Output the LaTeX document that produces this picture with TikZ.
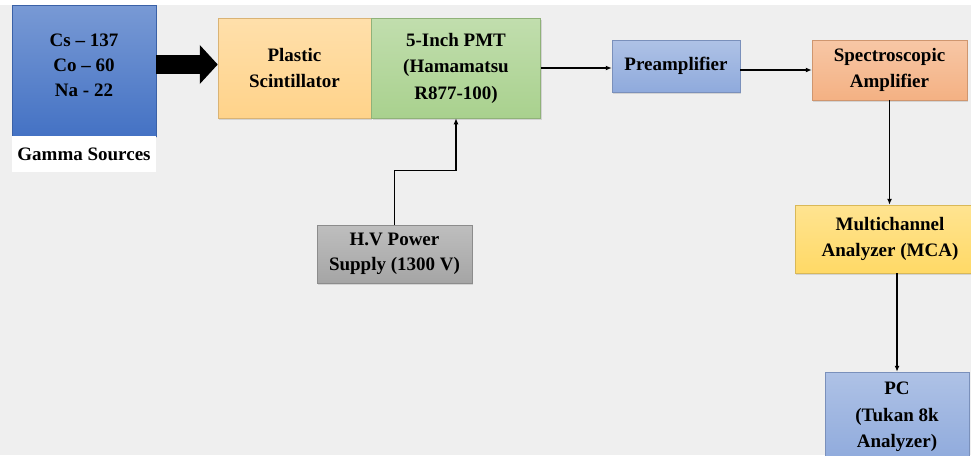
\documentclass[tikz,border=0pt]{standalone}
\usepackage{fontspec}
\setmainfont{Liberation Serif}
\usetikzlibrary{arrows.meta,positioning,shadows}
\definecolor{srcblue}{HTML}{4472C4}
\definecolor{scintor}{HTML}{FFD38A}
\definecolor{pmtgreen}{HTML}{A9D18E}
\definecolor{ampblue}{HTML}{8FAADC}
\definecolor{specsalm}{HTML}{F4B183}
\definecolor{mcayel}{HTML}{FFD966}
\definecolor{hvgrey}{HTML}{A5A5A5}
\definecolor{pagebg}{HTML}{EFEFEF}
\begin{document}
\begin{tikzpicture}[x=1pt,y=-1pt,
  box/.style={draw=#1!85!black, line width=0.5pt, top color=#1!72!white,
    bottom color=#1, inner sep=0pt, align=center,
    drop shadow={opacity=0.25, shadow xshift=1pt, shadow yshift=-2pt},
    font=\fontsize{19}{26.5}\selectfont\bfseries},
  tight/.style={font=\fontsize{19}{25}\selectfont\bfseries},
  link/.style={-{Latex[length=6pt,width=5pt]}, line width=1.2pt},
  fat/.style={-{Triangle[length=18pt,width=38pt]}, line width=19pt}]
  \useasboundingbox (0,0) rectangle (971,455);
  \clip (0,0) rectangle (971,455);
  \fill[pagebg] (0,5) rectangle (971,455);
  % source and detector
  \node[box=srcblue, tight, minimum width=144pt, minimum height=131pt, text depth=11pt] (src) at (84,70.5)
    {Cs -- 137\\Co -- 60\\Na - 22};
  \node[fill=white, minimum width=144pt, minimum height=36pt, inner sep=0pt,
    tight, below=0pt of src] (srclbl) {Gamma Sources};
  \node[box=scintor, minimum width=153pt, minimum height=100pt] (plas) at (294.5,68)
    {Plastic\\Scintillator};
  \node[box=pmtgreen, minimum width=169pt, minimum height=100pt, right=0pt of plas] (pmt)
    {5-Inch PMT\\(Hamamatsu\\R877-100)};
  \node[box=hvgrey, tight, minimum width=155pt, minimum height=58pt] (hv) at (394.5,254)
    {H.V Power\\Supply (1300 V)};
  % electronics chain
  \node[box=ampblue, minimum width=128pt, minimum height=52pt] (pre) at (676,66)
    {Preamplifier};
  \node[box=specsalm, minimum width=155pt, minimum height=60pt] (spec) at (889.5,70)
    {Spectroscopic\\Amplifier};
  \node[box=mcayel, minimum width=190pt, minimum height=68pt] (mca) at (890,239)
    {Multichannel\\Analyzer (MCA)};
  \node[box=ampblue, minimum width=144pt, minimum height=90pt] (pc) at (897,417)
    {PC\\(Tukan 8k\\Analyzer)};
  % connectors
  \draw[fat] ([yshift=6pt]src.east) -- ([yshift=6pt]src.east -| plas.west);
  \draw[link] (hv.north) -- ++(0,-54) -| (pmt.south);
  \draw[link] (pmt.east) -- (pmt.east -| pre.west);
  \draw[link] (pre.east |- spec) -- (spec.west);
  \draw[link] (spec.south) -- (mca.north -| spec.south);
  \draw[link] (mca.south -| pc.north) -- (pc.north);
\end{tikzpicture}
\end{document}
